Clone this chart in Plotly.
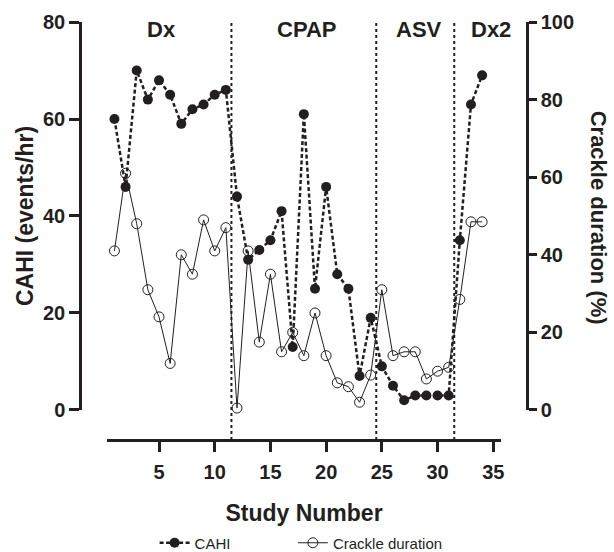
import plotly.graph_objects as go

study = list(range(1, 35))
cahi = [60, 46, 70, 64, 68, 65, 59, 62, 63, 65, 66, 44, 31, 33, 35, 41, 13, 61, 25, 46,
        28, 25, 7, 19, 9, 5, 2, 3, 3, 3, 3, 35, 63, 69]
crackle = [41, 61, 48, 31, 24, 12, 40, 35, 49, 41, 47, 0.5, 41, 17.5, 35, 15, 20, 14, 25, 14,
           7, 6, 2, 9, 31, 14, 15, 15, 8, 10, 11, 28.5, 48.5, 48.5]
phase_names = ["Dx", "CPAP", "ASV", "Dx2"]
phase_centers = [5.25, 18.26, 28.37, 34.83]
phase_breaks = [11.5, 24.5, 31.5]
left_ticks = [0, 20, 40, 60, 80]
right_ticks = [0, 20, 40, 60, 80, 100]
x_ticks = [5, 10, 15, 20, 25, 30, 35]

INK = "#231f20"
FONT = "Liberation Sans, Arial, Helvetica, sans-serif"

fig = go.Figure()
fig.add_trace(go.Scatter(
    x=study, y=cahi, name="CAHI", mode="lines+markers", yaxis="y", legend="legend",
    line=dict(color=INK, width=2.5, dash="4px,2.5px"),
    marker=dict(symbol="circle", size=10, color=INK),
    cliponaxis=False,
))
fig.add_trace(go.Scatter(
    x=study, y=crackle, name="Crackle duration", mode="lines+markers", yaxis="y2",
    legend="legend2",
    line=dict(color=INK, width=1),
    marker=dict(symbol="circle-open", size=10, color=INK, line=dict(width=1, color=INK)),
    cliponaxis=False,
))

for xb in phase_breaks:
    fig.add_shape(type="line", xref="x", yref="paper", x0=xb, x1=xb, y0=0, y1=1,
                  line=dict(color=INK, width=2, dash="dot"), layer="below")

for name, xc in zip(phase_names, phase_centers):
    fig.add_annotation(x=xc, y=0.981, xref="x", yref="paper", text=name, showarrow=False,
                       font=dict(family=FONT, size=22, color=INK, weight="bold"),
                       xanchor="center", yanchor="middle")

fig.add_annotation(x=1.16, y=0.533, xref="paper", yref="paper", text="Crackle duration (%)",
                   textangle=90, showarrow=False,
                   font=dict(family=FONT, size=22, color=INK, weight="bold"),
                   xanchor="center", yanchor="middle")

tickfont = dict(family=FONT, size=20, color=INK, weight="bold")
legfont = dict(family=FONT, size=15, color=INK)
fig.update_layout(
    width=614, height=552,
    margin=dict(l=80, r=87, t=22, b=112),
    paper_bgcolor="white", plot_bgcolor="white",
    font=dict(family=FONT, color=INK),
    showlegend=True,
    legend=dict(orientation="h", xref="container", yref="container",
                x=0.2518, xanchor="left", y=0.0163, yanchor="middle",
                font=legfont, bgcolor="rgba(0,0,0,0)"),
    legend2=dict(orientation="h", xref="container", yref="container",
                 x=0.477, xanchor="left", y=0.0163, yanchor="middle",
                 font=legfont, bgcolor="rgba(0,0,0,0)"),
    xaxis=dict(domain=[0.0611, 0.9412], range=[0.36, 35.67], anchor="free", position=0,
               automargin=False,
               showline=True, linewidth=2.5, linecolor=INK, showgrid=False, zeroline=False,
               ticks="outside", ticklen=10, tickwidth=2.5, tickcolor=INK,
               tickvals=x_ticks, tickfont=tickfont, ticklabelstandoff=3,
               title=dict(text="Study Number", standoff=23,
                          font=dict(family=FONT, size=23, color=INK, weight="bold"))),
    yaxis=dict(domain=[0.0718, 1], range=[0, 80], anchor="free", position=0,
               automargin=False,
               showline=True, linewidth=2.5, linecolor=INK, showgrid=False, zeroline=False,
               ticks="outside", ticklen=10, tickwidth=2.5, tickcolor=INK,
               tickvals=left_ticks, tickfont=tickfont,
               title=dict(text="CAHI (events/hr)", standoff=1,
                          font=dict(family=FONT, size=23, color=INK, weight="bold"))),
    yaxis2=dict(overlaying="y", side="right", range=[0, 100], anchor="free", position=1,
                automargin=False,
                showline=True, linewidth=2.5, linecolor=INK, showgrid=False, zeroline=False,
                ticks="outside", ticklen=8, tickwidth=2.5, tickcolor=INK,
                tickvals=right_ticks, tickfont=tickfont),
)

fig.write_html("out.html", config={"displayModeBar": False},
               post_script="document.body.style.margin='0px';")
